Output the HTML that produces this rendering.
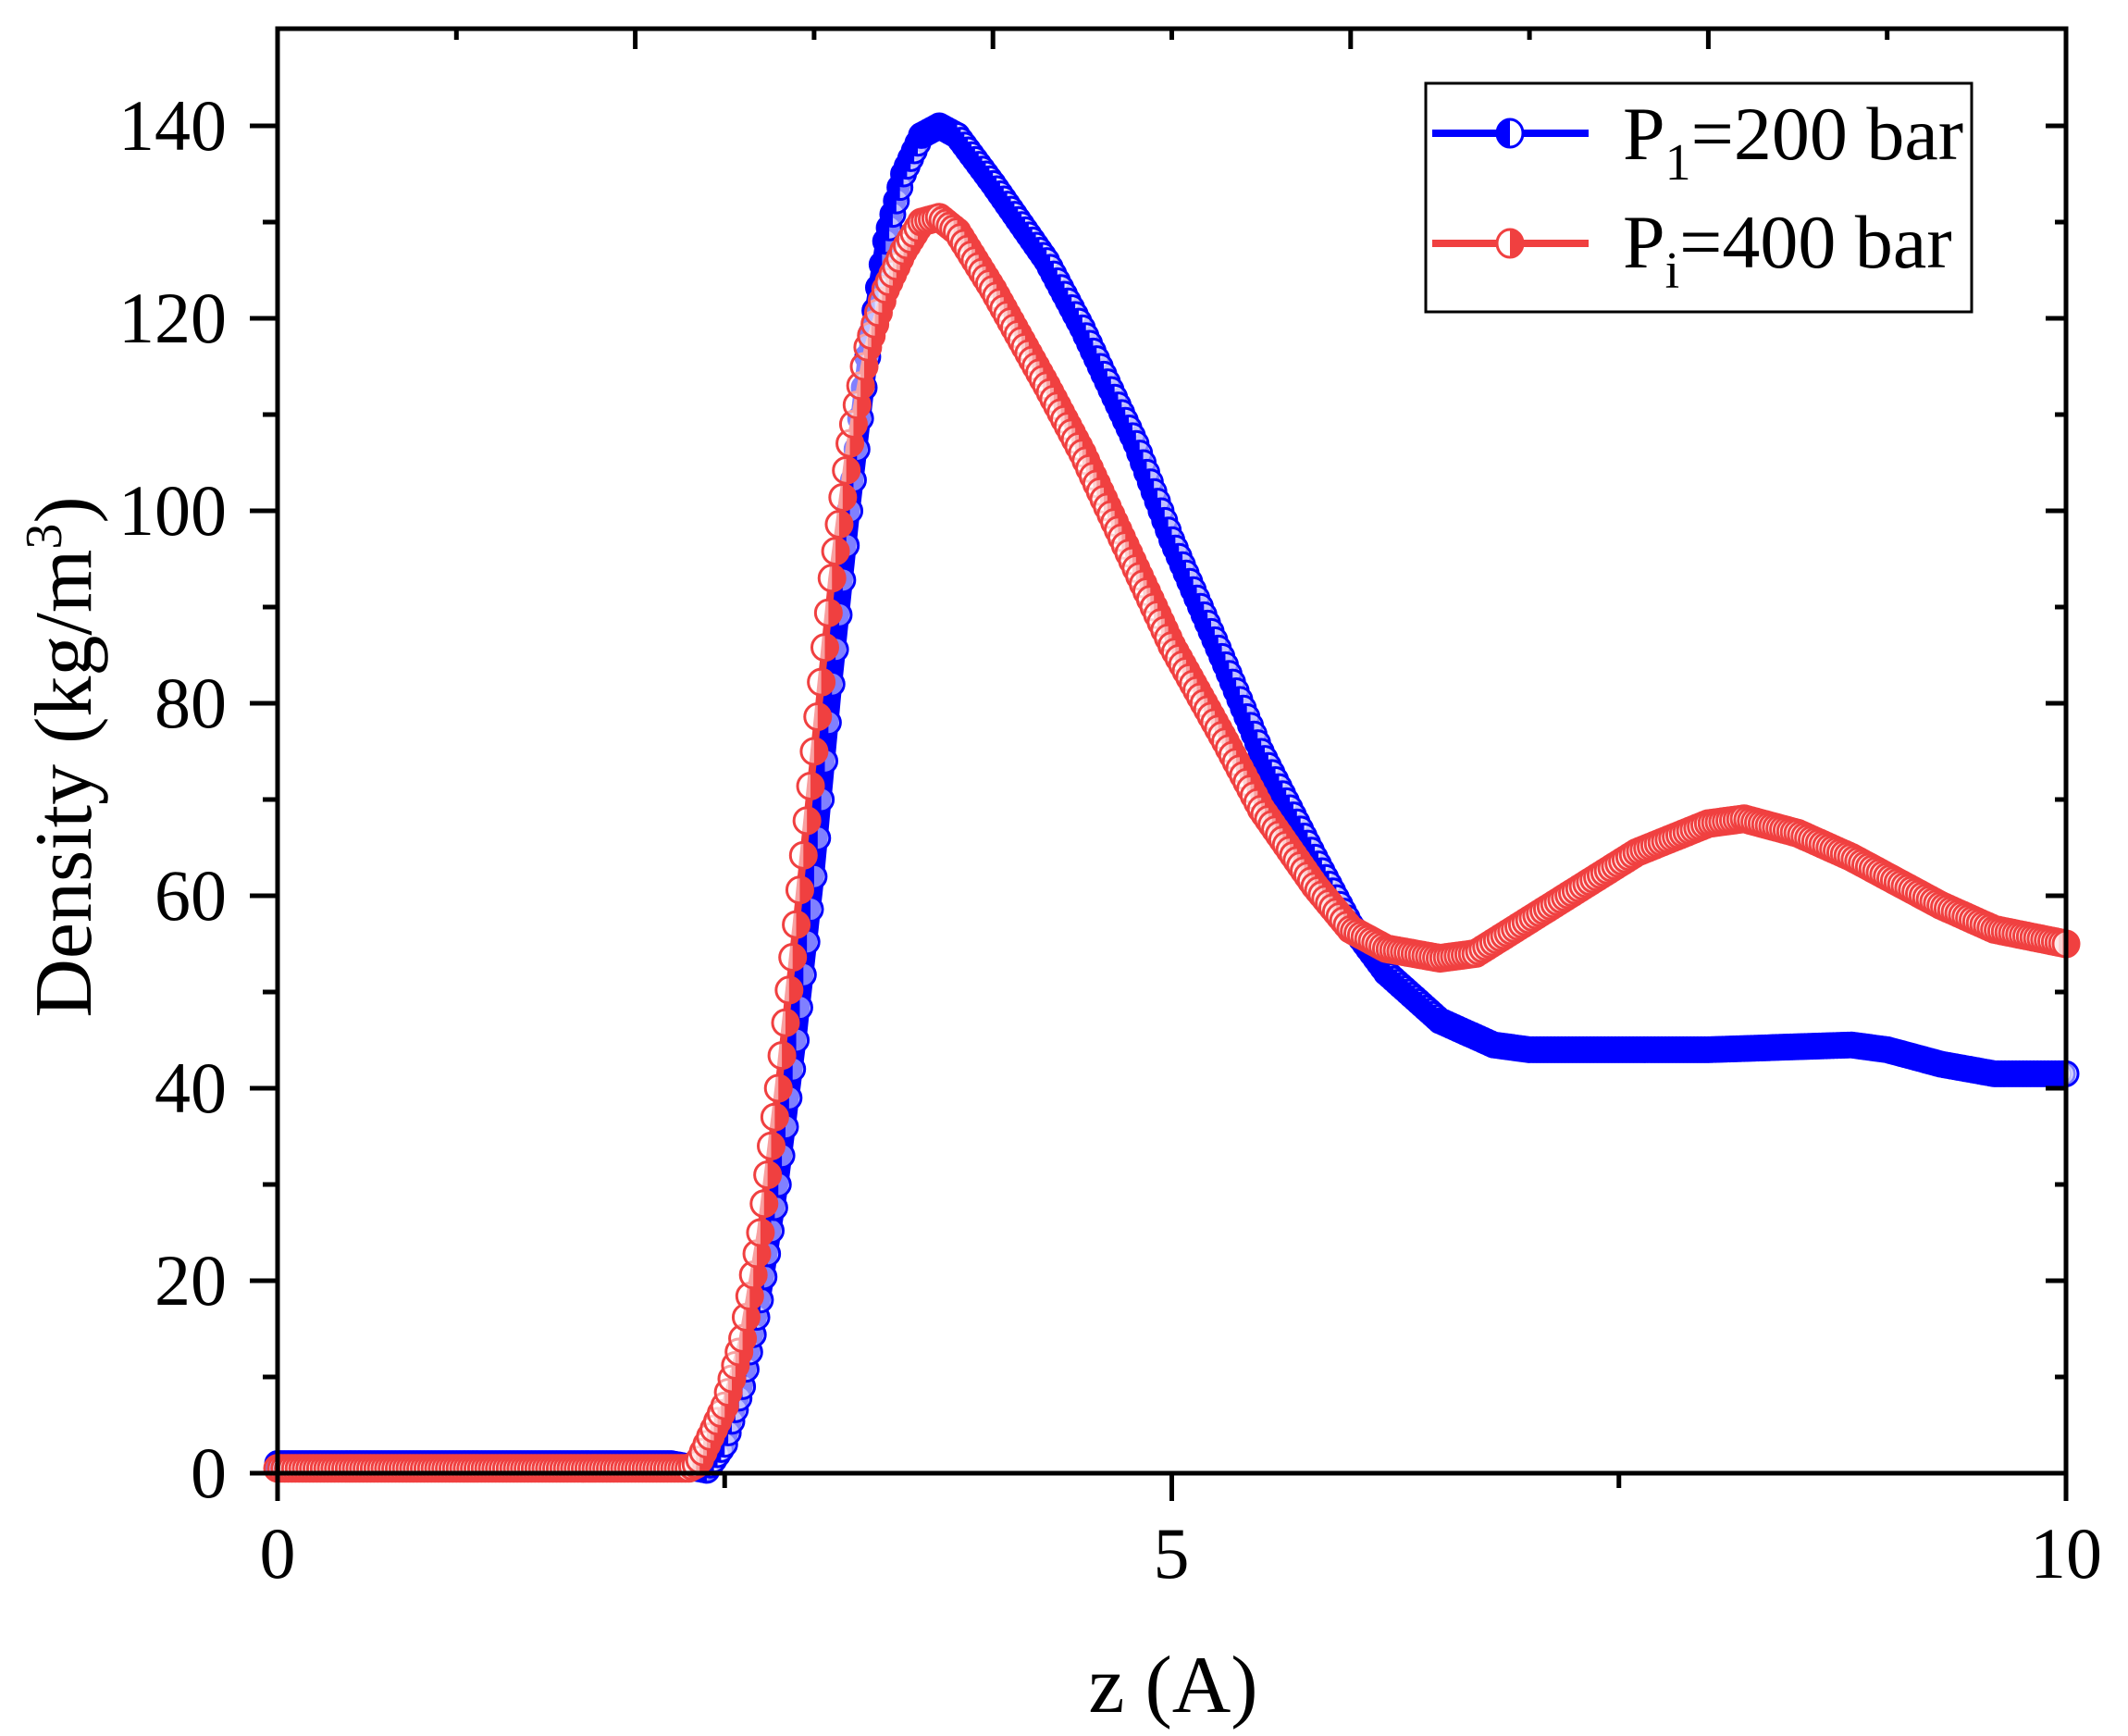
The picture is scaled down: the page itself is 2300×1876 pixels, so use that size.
<!DOCTYPE html>
<html><head><meta charset="utf-8"><style>
html,body{margin:0;padding:0;background:#fff;}
svg{display:block;}
text{font-family:"Liberation Serif",serif;fill:#000;}
</style></head><body>
<svg id="s" width="2300" height="1876" viewBox="0 0 2300 1876" xmlns="http://www.w3.org/2000/svg">
<g id="data"></g>
<g stroke="#000" stroke-width="5" fill="none">
<rect x="300" y="31" width="1933" height="1561"/>
</g>
<g id="ticks" stroke="#000" stroke-width="5"></g>
<g font-size="78" text-anchor="end" id="ylab"></g>
<g font-size="78" text-anchor="middle">
<text x="300" y="1705">0</text><text x="1266" y="1705">5</text><text x="2233" y="1705">10</text>
</g>
<text x="1268" y="1850" font-size="88" text-anchor="middle">z (A)</text>
<text transform="translate(98,818) rotate(-90)" font-size="88" text-anchor="middle">Density (kg/m<tspan font-size="56" dy="-32">3</tspan><tspan dy="32">)</tspan></text>
<rect x="1541" y="90" width="590" height="247" fill="#fff" stroke="#000" stroke-width="3"/>
<line x1="1548" y1="144" x2="1717" y2="144" stroke="#0000ff" stroke-width="8"/>
<ellipse cx="1632" cy="144" rx="14" ry="15" fill="#fff" stroke="#0000ff" stroke-width="3"/>
<path d="M1632 129 A14 15 0 0 0 1632 159 Z" fill="#0000ff"/>
<line x1="1548" y1="263" x2="1717" y2="263" stroke="#f04040" stroke-width="8"/>
<ellipse cx="1632" cy="263" rx="14" ry="15" fill="#fff" stroke="#f04040" stroke-width="3"/>
<path d="M1632 248 A14 15 0 0 1 1632 278 Z" fill="#f04040"/>
<text x="1754" y="172" font-size="82">P<tspan font-size="56" dy="22">1</tspan><tspan dy="-22">=200 bar</tspan></text>
<text x="1754" y="289" font-size="82">P<tspan font-size="56" dy="22">i</tspan><tspan dy="-22">=400 bar</tspan></text>
</svg>
<script>
var NS="http://www.w3.org/2000/svg";
function X(z){return 300+193.3*z;} function Y(v){return 1592-10.4*v;}
function el(p,t,a){var e=document.createElementNS(NS,t);for(var k in a)e.setAttribute(k,a[k]);p.appendChild(e);return e;}
var tk=document.getElementById('ticks'),yl=document.getElementById('ylab');
for(var v=0;v<=140;v+=10){var y=Y(v),maj=v%20==0;
 el(tk,'line',{x1:300-(maj?30:16),y1:y,x2:300,y2:y});
 el(tk,'line',{x1:2233,y1:y,x2:2233-(maj?22:12),y2:y});
 if(maj){var t=el(yl,'text',{x:245,y:y+26});t.textContent=v;}}
for(var z=0;z<=10;z+=2.5){var x=X(z),maj=z%5==0;el(tk,'line',{x1:x,y1:1592,x2:x,y2:1592+(maj?30:16)});}
for(var z=1;z<10;z++){var x=X(z);el(tk,'line',{x1:x,y1:31,x2:x,y2:31+(z%2==0?22:12)});}
var blue=[[0,1],[2.2,1],[2.4,0.3],[2.5,3],[2.6,9],[2.7,18],[2.8,30],[2.9,45],[3.0,62],[3.1,82],[3.2,100],[3.3,116],[3.4,128],[3.5,135],[3.6,139],[3.7,140],[3.8,139],[4.0,134],[4.3,126],[4.5,119],[4.8,107],[5.0,97],[5.3,84],[5.5,75],[5.8,64],[6.0,57],[6.2,52],[6.5,47],[6.8,44.5],[7.0,44],[8.0,44],[8.8,44.5],[9.0,44],[9.3,42.5],[9.6,41.5],[10,41.5]];
var red=[[0,0.5],[2.3,0.5],[2.35,1],[2.5,7],[2.6,14],[2.7,25],[2.8,40],[2.9,57],[3.0,75],[3.1,93],[3.2,107],[3.3,117],[3.4,123],[3.5,127],[3.6,130],[3.7,130.5],[3.8,129],[4.0,123],[4.3,113],[4.5,106],[4.8,94],[5.0,86],[5.3,76],[5.5,69],[5.8,61],[6.0,56.5],[6.2,54.5],[6.5,53.5],[6.7,54],[7.0,57.5],[7.3,61],[7.6,64.5],[8.0,67.5],[8.2,68],[8.5,66.5],[8.8,64],[9.0,62],[9.3,59],[9.6,56.5],[10,55]];
function interp(a,z){for(var i=1;i<a.length;i++)if(z<=a[i][0]){var t=(z-a[i-1][0])/(a[i][0]-a[i-1][0]);return a[i-1][1]+t*(a[i][1]-a[i-1][1]);}return a[a.length-1][1];}
var g=document.getElementById('data');
function series(a,col,w,r,sw,half,st){
 var pts=[];for(var z=0;z<=10.0001;z+=0.01)pts.push(X(z).toFixed(1)+','+Y(interp(a,z)).toFixed(1));
 el(g,'polyline',{points:pts.join(' '),fill:'none',stroke:col,'stroke-width':w,'stroke-linejoin':'round'});
 for(var z=0;z<=10.0001;z+=st){var cx=X(z),cy=Y(interp(a,z));
  el(g,'circle',{cx:cx,cy:cy,r:r,fill:'#fff','fill-opacity':0.5,stroke:col,'stroke-width':sw});
  el(g,'path',{d:'M'+cx+' '+(cy-r)+' A'+r+' '+r+' 0 0 '+(half?0:1)+' '+cx+' '+(cy+r)+' Z',fill:col});}
}
series(blue,'#0000ff',22,13,3,true,0.02);
series(red,'#f04040',8,14,3,false,0.02);
</script>
</body></html>
